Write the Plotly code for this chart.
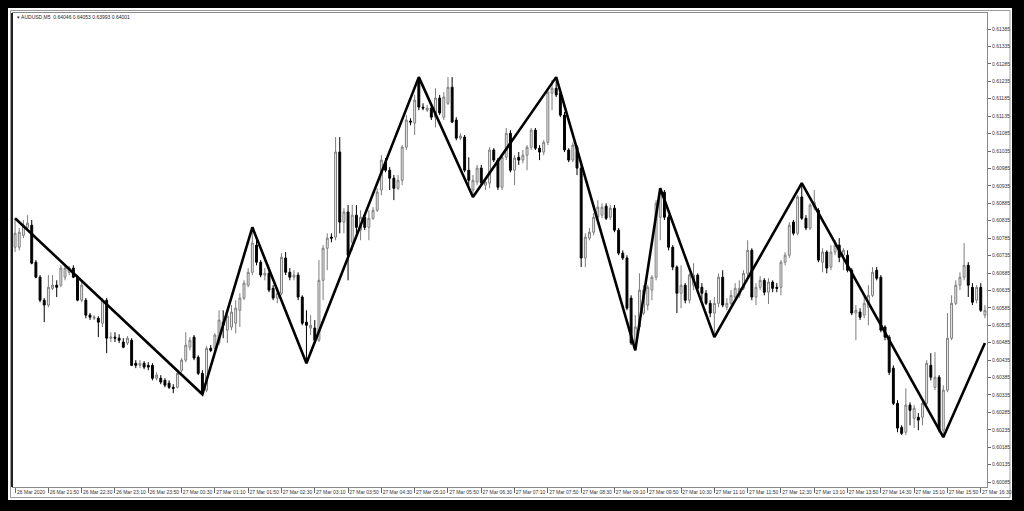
import plotly.graph_objects as go

# ---------------- data ----------------
x_labels = ["26 Mar 2020", "26 Mar 21:50", "26 Mar 22:30", "26 Mar 23:10", "26 Mar 23:50",
            "27 Mar 00:30", "27 Mar 01:10", "27 Mar 01:50", "27 Mar 02:30", "27 Mar 03:10",
            "27 Mar 03:50", "27 Mar 04:30", "27 Mar 05:10", "27 Mar 05:50", "27 Mar 06:30",
            "27 Mar 07:10", "27 Mar 07:50", "27 Mar 08:30", "27 Mar 09:10", "27 Mar 09:50",
            "27 Mar 10:30", "27 Mar 11:10", "27 Mar 11:50", "27 Mar 12:30", "27 Mar 13:10",
            "27 Mar 13:50", "27 Mar 14:30", "27 Mar 15:10", "27 Mar 15:50", "27 Mar 16:30"]

y_labels = ["0.60085", "0.60135", "0.60185", "0.60235", "0.60285", "0.60335", "0.60385",
            "0.60435", "0.60485", "0.60535", "0.60585", "0.60635", "0.60685", "0.60735",
            "0.60785", "0.60835", "0.60885", "0.60935", "0.60985", "0.61035", "0.61085",
            "0.61135", "0.61185", "0.61235", "0.61285", "0.61335", "0.61385"]

open_ = [
    0.60759, 0.60759, 0.60793, 0.60816, 0.60822, 0.60716, 0.60673, 0.60607, 0.60593, 0.60641,
    0.60650, 0.60650, 0.60673, 0.60687, 0.60699, 0.60673, 0.60607, 0.60607, 0.60564, 0.60555,
    0.60555, 0.60541, 0.60607, 0.60498, 0.60501, 0.60498, 0.60487, 0.60484, 0.60492, 0.60426,
    0.60420, 0.60426, 0.60420, 0.60420, 0.60383, 0.60383, 0.60377, 0.60369, 0.60357, 0.60357,
    0.60406, 0.60435, 0.60472, 0.60501, 0.60443, 0.60397, 0.60349, 0.60469, 0.60469, 0.60484,
    0.60544, 0.60521, 0.60530, 0.60541, 0.60578, 0.60613, 0.60650, 0.60687, 0.60765, 0.60716,
    0.60679, 0.60684, 0.60641, 0.60613, 0.60627, 0.60728, 0.60687, 0.60673, 0.60679, 0.60616,
    0.60544, 0.60527, 0.60527, 0.60492, 0.60664, 0.60756, 0.60788, 0.60788, 0.61032, 0.60831,
    0.60860, 0.60773, 0.60851, 0.60808, 0.60845, 0.60816, 0.60842, 0.60865, 0.60923, 0.61003,
    0.60980, 0.60957, 0.60928, 0.60951, 0.61046, 0.61121, 0.61115, 0.61239, 0.61161, 0.61152,
    0.61158, 0.61132, 0.61187, 0.61132, 0.61172, 0.61218, 0.61124, 0.61072, 0.61075, 0.60980,
    0.60923, 0.60946, 0.60986, 0.60937, 0.60943, 0.61038, 0.61009, 0.60931, 0.61017, 0.61086,
    0.60980, 0.61017, 0.61009, 0.61023, 0.61046, 0.61095, 0.61043, 0.61032, 0.61060, 0.61201,
    0.61215, 0.61201, 0.61138, 0.61038, 0.61009, 0.61046, 0.60986, 0.60728, 0.60785, 0.60802,
    0.60845, 0.60851, 0.60877, 0.60845, 0.60871, 0.60808, 0.60742, 0.60728, 0.60613, 0.60484,
    0.60530, 0.60570, 0.60593, 0.60636, 0.60673, 0.60845, 0.60917, 0.60845, 0.60759, 0.60702,
    0.60627, 0.60650, 0.60607, 0.60650, 0.60679, 0.60644, 0.60627, 0.60598, 0.60570, 0.60598,
    0.60673, 0.60587, 0.60598, 0.60616, 0.60621, 0.60641, 0.60684, 0.60750, 0.60616, 0.60644,
    0.60664, 0.60630, 0.60659, 0.60644, 0.60644, 0.60716, 0.60736, 0.60831, 0.60799, 0.60903,
    0.60842, 0.60814, 0.60874, 0.60865, 0.60716, 0.60745, 0.60702, 0.60745, 0.60765, 0.60736,
    0.60736, 0.60693, 0.60570, 0.60573, 0.60564, 0.60587, 0.60621, 0.60693, 0.60673, 0.60530,
    0.60501, 0.60412, 0.60311, 0.60242, 0.60228, 0.60306, 0.60268, 0.60271, 0.60271, 0.60311,
    0.60420, 0.60357, 0.60386, 0.60234, 0.60349, 0.60498, 0.60598, 0.60650, 0.60673, 0.60707,
    0.60644, 0.60607, 0.60644, 0.60564]

high = [
    0.60842, 0.60814, 0.60837, 0.60851, 0.60837, 0.60722, 0.60679, 0.60613, 0.60679, 0.60679,
    0.60664, 0.60707, 0.60707, 0.60705, 0.60707, 0.60679, 0.60659, 0.60613, 0.60570, 0.60564,
    0.60561, 0.60613, 0.60613, 0.60515, 0.60515, 0.60509, 0.60498, 0.60504, 0.60498, 0.60435,
    0.60435, 0.60432, 0.60429, 0.60426, 0.60400, 0.60392, 0.60383, 0.60377, 0.60366, 0.60406,
    0.60441, 0.60515, 0.60501, 0.60507, 0.60449, 0.60406, 0.60475, 0.60478, 0.60512, 0.60578,
    0.60578, 0.60578, 0.60593, 0.60607, 0.60627, 0.60664, 0.60699, 0.60816, 0.60779, 0.60722,
    0.60699, 0.60693, 0.60650, 0.60636, 0.60742, 0.60745, 0.60699, 0.60693, 0.60687, 0.60621,
    0.60578, 0.60564, 0.60550, 0.60722, 0.60765, 0.60799, 0.60799, 0.61075, 0.61075, 0.60871,
    0.60880, 0.60880, 0.60880, 0.60865, 0.60857, 0.60865, 0.60874, 0.60928, 0.61023, 0.61015,
    0.60989, 0.60966, 0.60966, 0.61052, 0.61138, 0.61129, 0.61196, 0.61247, 0.61172, 0.61167,
    0.61167, 0.61215, 0.61196, 0.61204, 0.61247, 0.61247, 0.61132, 0.61086, 0.61081, 0.61017,
    0.60966, 0.60995, 0.60995, 0.60957, 0.61046, 0.61043, 0.61015, 0.61023, 0.61101, 0.61095,
    0.61023, 0.61032, 0.61038, 0.61052, 0.61101, 0.61101, 0.61052, 0.61066, 0.61215, 0.61239,
    0.61247, 0.61210, 0.61147, 0.61043, 0.61060, 0.61052, 0.60995, 0.60799, 0.60814, 0.60857,
    0.60894, 0.60885, 0.60885, 0.60880, 0.60880, 0.60814, 0.60750, 0.60736, 0.60621, 0.60564,
    0.60684, 0.60650, 0.60650, 0.60679, 0.60894, 0.60928, 0.60923, 0.60851, 0.60765, 0.60707,
    0.60707, 0.60656, 0.60684, 0.60713, 0.60684, 0.60656, 0.60636, 0.60607, 0.60616, 0.60684,
    0.60693, 0.60613, 0.60636, 0.60656, 0.60664, 0.60693, 0.60779, 0.60756, 0.60656, 0.60676,
    0.60670, 0.60670, 0.60664, 0.60656, 0.60722, 0.60745, 0.60831, 0.60837, 0.60908, 0.60943,
    0.60851, 0.60885, 0.60923, 0.60871, 0.60756, 0.60750, 0.60765, 0.60779, 0.60785, 0.60756,
    0.60750, 0.60699, 0.60593, 0.60584, 0.60621, 0.60650, 0.60702, 0.60702, 0.60679, 0.60535,
    0.60507, 0.60420, 0.60320, 0.60248, 0.60354, 0.60314, 0.60306, 0.60283, 0.60320, 0.60435,
    0.60455, 0.60458, 0.60392, 0.60363, 0.60570, 0.60621, 0.60664, 0.60687, 0.60771, 0.60716,
    0.60656, 0.60650, 0.60656, 0.60593]

low = [
    0.60745, 0.60750, 0.60785, 0.60808, 0.60710, 0.60670, 0.60601, 0.60544, 0.60587, 0.60636,
    0.60616, 0.60644, 0.60664, 0.60679, 0.60670, 0.60604, 0.60601, 0.60555, 0.60550, 0.60550,
    0.60501, 0.60530, 0.60455, 0.60487, 0.60487, 0.60484, 0.60469, 0.60478, 0.60418, 0.60412,
    0.60412, 0.60409, 0.60406, 0.60377, 0.60377, 0.60366, 0.60357, 0.60352, 0.60340, 0.60354,
    0.60400, 0.60429, 0.60463, 0.60435, 0.60392, 0.60337, 0.60343, 0.60458, 0.60463, 0.60478,
    0.60498, 0.60484, 0.60521, 0.60512, 0.60530, 0.60607, 0.60644, 0.60679, 0.60707, 0.60673,
    0.60664, 0.60630, 0.60607, 0.60598, 0.60621, 0.60679, 0.60664, 0.60664, 0.60607, 0.60535,
    0.60426, 0.60507, 0.60487, 0.60487, 0.60607, 0.60693, 0.60773, 0.60779, 0.60799, 0.60799,
    0.60664, 0.60750, 0.60793, 0.60779, 0.60808, 0.60779, 0.60837, 0.60860, 0.60908, 0.60974,
    0.60923, 0.60894, 0.60923, 0.60937, 0.61038, 0.61109, 0.61081, 0.61152, 0.61152, 0.61147,
    0.61124, 0.61103, 0.61138, 0.61124, 0.61167, 0.61115, 0.61066, 0.61066, 0.60974, 0.60931,
    0.60903, 0.60937, 0.60937, 0.60923, 0.60928, 0.61003, 0.60923, 0.60923, 0.61009, 0.60974,
    0.60937, 0.60995, 0.61000, 0.60980, 0.61038, 0.61038, 0.61009, 0.61023, 0.61052, 0.61152,
    0.61190, 0.61132, 0.61032, 0.61003, 0.61003, 0.60966, 0.60702, 0.60702, 0.60779, 0.60793,
    0.60837, 0.60842, 0.60837, 0.60837, 0.60802, 0.60736, 0.60722, 0.60578, 0.60478, 0.60463,
    0.60521, 0.60564, 0.60578, 0.60607, 0.60664, 0.60779, 0.60837, 0.60750, 0.60693, 0.60570,
    0.60584, 0.60598, 0.60598, 0.60636, 0.60636, 0.60607, 0.60593, 0.60558, 0.60501, 0.60587,
    0.60587, 0.60578, 0.60593, 0.60607, 0.60613, 0.60636, 0.60673, 0.60607, 0.60593, 0.60636,
    0.60621, 0.60596, 0.60630, 0.60630, 0.60621, 0.60707, 0.60728, 0.60793, 0.60793, 0.60837,
    0.60808, 0.60808, 0.60865, 0.60716, 0.60687, 0.60684, 0.60693, 0.60736, 0.60716, 0.60693,
    0.60687, 0.60564, 0.60492, 0.60550, 0.60555, 0.60535, 0.60616, 0.60664, 0.60515, 0.60492,
    0.60392, 0.60306, 0.60228, 0.60220, 0.60220, 0.60248, 0.60240, 0.60234, 0.60248, 0.60306,
    0.60377, 0.60349, 0.60228, 0.60214, 0.60343, 0.60492, 0.60593, 0.60636, 0.60664, 0.60616,
    0.60593, 0.60598, 0.60573, 0.60555]

close = [
    0.60799, 0.60802, 0.60822, 0.60828, 0.60713, 0.60673, 0.60607, 0.60593, 0.60644, 0.60650,
    0.60644, 0.60699, 0.60699, 0.60699, 0.60673, 0.60607, 0.60650, 0.60564, 0.60558, 0.60558,
    0.60544, 0.60607, 0.60498, 0.60501, 0.60498, 0.60492, 0.60472, 0.60498, 0.60420, 0.60420,
    0.60426, 0.60415, 0.60415, 0.60383, 0.60392, 0.60372, 0.60363, 0.60357, 0.60354, 0.60397,
    0.60435, 0.60478, 0.60492, 0.60441, 0.60397, 0.60343, 0.60469, 0.60463, 0.60507, 0.60550,
    0.60535, 0.60561, 0.60573, 0.60584, 0.60613, 0.60656, 0.60687, 0.60771, 0.60716, 0.60679,
    0.60684, 0.60636, 0.60613, 0.60627, 0.60730, 0.60687, 0.60673, 0.60679, 0.60616, 0.60541,
    0.60535, 0.60535, 0.60492, 0.60664, 0.60756, 0.60785, 0.60785, 0.61032, 0.60831, 0.60860,
    0.60736, 0.60851, 0.60816, 0.60845, 0.60816, 0.60842, 0.60865, 0.60917, 0.61009, 0.60980,
    0.60957, 0.60928, 0.60951, 0.61046, 0.61124, 0.61118, 0.61181, 0.61161, 0.61158, 0.61158,
    0.61132, 0.61187, 0.61144, 0.61190, 0.61218, 0.61118, 0.61072, 0.61078, 0.60980, 0.60951,
    0.60951, 0.60986, 0.60943, 0.60946, 0.61038, 0.61009, 0.60931, 0.61017, 0.61086, 0.60980,
    0.61015, 0.61009, 0.61023, 0.61046, 0.61095, 0.61043, 0.61032, 0.61060, 0.61204, 0.61215,
    0.61196, 0.61138, 0.61038, 0.61009, 0.61052, 0.60986, 0.60728, 0.60788, 0.60802, 0.60845,
    0.60874, 0.60874, 0.60842, 0.60871, 0.60808, 0.60742, 0.60728, 0.60584, 0.60484, 0.60530,
    0.60636, 0.60636, 0.60644, 0.60673, 0.60885, 0.60917, 0.60845, 0.60759, 0.60702, 0.60627,
    0.60650, 0.60607, 0.60679, 0.60679, 0.60641, 0.60627, 0.60598, 0.60570, 0.60598, 0.60673,
    0.60593, 0.60598, 0.60621, 0.60641, 0.60641, 0.60684, 0.60750, 0.60616, 0.60644, 0.60664,
    0.60630, 0.60659, 0.60641, 0.60641, 0.60716, 0.60736, 0.60822, 0.60799, 0.60903, 0.60842,
    0.60814, 0.60880, 0.60888, 0.60722, 0.60745, 0.60699, 0.60745, 0.60765, 0.60730, 0.60750,
    0.60693, 0.60570, 0.60578, 0.60558, 0.60598, 0.60621, 0.60687, 0.60670, 0.60521, 0.60501,
    0.60400, 0.60311, 0.60240, 0.60225, 0.60306, 0.60291, 0.60297, 0.60263, 0.60311, 0.60426,
    0.60386, 0.60386, 0.60234, 0.60349, 0.60498, 0.60598, 0.60650, 0.60673, 0.60707, 0.60650,
    0.60601, 0.60644, 0.60578, 0.60578]

# ZigZag swing points (bar number, price)
zz_bar = [0, 45, 57, 70, 97, 110, 130, 149, 155, 168, 189, 223, 233]
zz_price = [0.60842, 0.60337, 0.60816, 0.60426, 0.61247, 0.60903, 0.61247,
            0.60463, 0.60928, 0.60501, 0.60943, 0.60214, 0.60484]

title_text = "▾ AUDUSD,M5  0.64046 0.64053 0.63993 0.64001"

# ---------------- figure ----------------
bars = list(range(len(close)))
label_bars = [8 * i for i in range(len(x_labels))]
y_vals = [float(v) for v in y_labels]

W, H = 1024, 511
ML, MR, MT, MB = 13, 37, 13, 24
PW, PH = W - ML - MR, H - MT - MB


def px(xp):
    return (xp - ML) / PW


def py(yp):
    return (H - MB - yp) / PH


FONT = "Liberation Sans, Arial, sans-serif"

fig = go.Figure()
fig.add_trace(go.Candlestick(
    x=bars, open=open_, high=high, low=low, close=close,
    increasing=dict(line=dict(color="#7d7d7d", width=1), fillcolor="#f2f2f2"),
    decreasing=dict(line=dict(color="#000000", width=1), fillcolor="#000000"),
    whiskerwidth=0, showlegend=False, hoverinfo="skip",
))
fig.add_trace(go.Scatter(
    x=zz_bar, y=zz_price, mode="lines",
    line=dict(color="#000000", width=2.6), showlegend=False, hoverinfo="skip",
))

fig.update_layout(
    width=W, height=H,
    margin=dict(l=ML, r=MR, t=MT, b=MB, pad=0),
    paper_bgcolor="#000000", plot_bgcolor="#ffffff",
    boxgap=0.35,
    font=dict(family=FONT, size=5, color="#333333"),
    xaxis=dict(
        range=[-0.5, 233.5], rangeslider=dict(visible=False),
        tickmode="array", tickvals=label_bars, ticktext=x_labels,
        ticks="outside", ticklen=5, tickcolor="#666666", tickwidth=1,
        tickangle=0, ticklabelshift=16, ticklabelstandoff=-5,
        tickfont=dict(family=FONT, size=5, color="#333333"),
        showgrid=False, zeroline=False,
        showline=True, linecolor="#8a8a8a", linewidth=1, mirror=True,
    ),
    yaxis=dict(
        side="right", range=[0.60071, 0.61431],
        tickmode="array", tickvals=y_vals, ticktext=y_labels,
        ticks="outside", ticklen=3, tickcolor="#666666", tickwidth=1,
        tickfont=dict(family=FONT, size=5, color="#333333"),
        showgrid=False, zeroline=False,
        showline=True, linecolor="#8a8a8a", linewidth=1, mirror=True,
    ),
    shapes=[
        dict(type="rect", xref="paper", yref="paper", layer="below",
             x0=px(8), x1=px(1012), y0=py(500), y1=py(8),
             fillcolor="#ffffff", line=dict(width=0)),
        dict(type="rect", xref="paper", yref="paper", layer="below",
             x0=px(10.5), x1=px(1010), y0=py(497.5), y1=py(10.5),
             fillcolor="rgba(0,0,0,0)", line=dict(color="#9a9a9a", width=1)),
        dict(type="line", xref="paper", yref="paper", layer="above",
             x0=px(12), x1=px(12), y0=py(487), y1=py(13),
             line=dict(color="#202020", width=2)),
    ],
    annotations=[
        dict(text=title_text, xref="paper", yref="paper",
             x=px(15), y=py(17), xanchor="left", yanchor="middle",
             showarrow=False, font=dict(family=FONT, size=5, color="#222222")),
    ],
)

page_fix = ("document.body.style.margin='0';"
            "document.body.style.padding='0';"
            "document.body.style.overflow='hidden';"
            "document.body.style.background='#000000';"
            "document.documentElement.style.background='#000000';")

fig.write_html("out.html", post_script=page_fix,
               config={"displayModeBar": False, "staticPlot": True})
